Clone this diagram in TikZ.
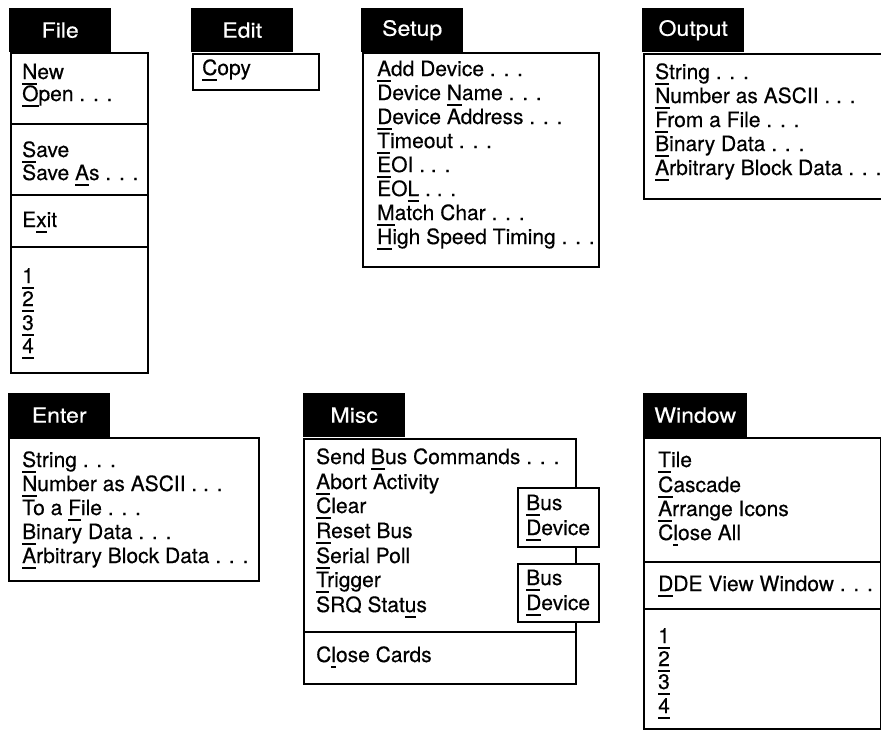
\documentclass[tikz,border=0pt]{standalone}
\usepackage{fontspec}
\setmainfont[FakeBold=0.4]{TeX Gyre Heros}
\newfontfamily\titlefont[FakeStretch=1.1,FakeBold=0.4]{TeX Gyre Heros}
\usetikzlibrary{positioning}
\newcommand{\mnem}[1]{\setbox0=\hbox{#1}\rlap{\rule[-6pt]{\wd0}{2.4pt}}#1}
\tikzset{
  menutitle/.style = {fill=black, text=white, anchor=north west, inner sep=0pt,
                      minimum width=102pt, minimum height=44pt,
                      font=\titlefont\fontsize{21}{21}\selectfont},
  menubox/.style   = {draw=black, line width=1.8pt, anchor=north west, inner sep=0pt},
  subbox/.style    = {menubox, fill=white},
  menuitem/.style  = {anchor=base west, inner sep=0pt,
                      font=\fontsize{21}{21}\selectfont},
  sepline/.style   = {line width=1.8pt},
}

\begin{document}
\begin{tikzpicture}[x=1pt, y=-1pt]
  \useasboundingbox (0,0) rectangle (881,729);
  \clip (0,0) rectangle (881,729);

  % File
  \node[menutitle] (filetitle) at (9,8) {File};
  \node[menubox, minimum width=137pt, minimum height=320pt] (filebox) at (10,52) {};
  \draw[sepline] (filebox.west |- 0,124) -- (filebox.east |- 0,124);
  \draw[sepline] (filebox.west |- 0,195) -- (filebox.east |- 0,195);
  \draw[sepline] (filebox.west |- 0,247) -- (filebox.east |- 0,247);
  \node[menuitem] (filenew)    at (22,79)  {\mnem{N}ew};
  \node[menuitem] (fileopen)   at (22,101) {\mnem{O}pen . . .};
  \node[menuitem] (filesave)   at (22,157) {\mnem{S}ave};
  \node[menuitem] (filesaveas) at (22,180) {Save \mnem{A}s . . .};
  \node[menuitem] (fileexit)   at (22,227) {E\mnem{x}it};
  \node[menuitem] (fileone)    at (22,283) {\mnem{1}};
  \node[menuitem] (filetwo)    at (22,306) {\mnem{2}};
  \node[menuitem] (filethree)  at (22,330) {\mnem{3}};
  \node[menuitem] (filefour)   at (22,353) {\mnem{4}};

  % Edit
  \node[menutitle] (edittitle) at (191,8) {Edit};
  \node[menubox, minimum width=126pt, minimum height=36pt] (editbox) at (192,53) {};
  \node[menuitem] (editcopy) at (202,75) {\mnem{C}opy};

  % Setup
  \node[menutitle] (setuptitle) at (361,8) {Setup};
  \node[menubox, minimum width=236pt, minimum height=214pt] (setupbox) at (362,52) {};
  \node[menuitem] (setupadd)     at (377,76)  {\mnem{A}dd Device . . .};
  \node[menuitem] (setupname)    at (377,100) {Device \mnem{N}ame . . .};
  \node[menuitem] (setupaddr)    at (377,124) {\mnem{D}evice Address . . .};
  \node[menuitem] (setuptimeout) at (377,148) {\mnem{T}imeout . . .};
  \node[menuitem] (setupeoi)     at (377,172) {\mnem{E}OI . . .};
  \node[menuitem] (setupeol)     at (377,196) {EO\mnem{L} . . .};
  \node[menuitem] (setupmatch)   at (377,220) {\mnem{M}atch Char . . .};
  \node[menuitem] (setuphigh)    at (377,244) {\mnem{H}igh Speed Timing . . .};

  % Output
  \node[menutitle] (outtitle) at (642,8) {Output};
  \node[menubox, minimum width=260pt, minimum height=145pt] (outbox) at (643,53) {};
  \node[menuitem] (outstring) at (655,79)  {\mnem{S}tring . . .};
  \node[menuitem] (outnumber) at (655,103) {\mnem{N}umber as ASCII . . .};
  \node[menuitem] (outfile)   at (655,127) {\mnem{F}rom a File . . .};
  \node[menuitem] (outbinary) at (655,151) {\mnem{B}inary Data . . .};
  \node[menuitem] (outblock)  at (655,175) {\mnem{A}rbitrary Block Data . . .};

  % Enter
  \node[menutitle] (entertitle) at (8,393) {Enter};
  \node[menubox, minimum width=250pt, minimum height=143pt] (enterbox) at (8,437) {};
  \node[menuitem] (enterstring) at (22,467) {\mnem{S}tring . . .};
  \node[menuitem] (enternumber) at (22,491) {\mnem{N}umber as ASCII . . .};
  \node[menuitem] (enterfile)   at (22,515) {To a \mnem{F}ile . . .};
  \node[menuitem] (enterbinary) at (22,539) {\mnem{B}inary Data . . .};
  \node[menuitem] (enterblock)  at (22,563) {\mnem{A}rbitrary Block Data . . .};

  % Misc
  \node[menutitle] (misctitle) at (303,393) {Misc};
  \node[menubox, minimum width=272pt, minimum height=245pt] (miscbox) at (303,438) {};
  \draw[sepline] (miscbox.west |- 0,632) -- (miscbox.east |- 0,632);
  \node[menuitem] (miscsend)    at (316,464) {Send \mnem{B}us Commands . . .};
  \node[menuitem] (miscabort)   at (316,489) {\mnem{A}bort Activity};
  \node[menuitem] (miscclear)   at (316,513) {\mnem{C}lear};
  \node[menuitem] (miscreset)   at (316,538) {\mnem{R}eset Bus};
  \node[menuitem] (miscpoll)    at (316,563) {\mnem{S}erial Poll};
  \node[menuitem] (misctrigger) at (316,587) {\mnem{T}rigger};
  \node[menuitem] (miscsrq)     at (316,612) {SRQ Stat\mnem{u}s};
  \node[menuitem] (miscclose)   at (316,662) {C\mnem{l}ose Cards};
  \node[subbox, minimum width=81pt, minimum height=59pt] (clearbox) at (517,487) {};
  \node[menuitem] (clearbus)    at (526,510) {\mnem{B}us};
  \node[menuitem] (cleardevice) at (526,535) {\mnem{D}evice};
  \node[subbox, minimum width=81pt, minimum height=58pt] (trigbox) at (517,563) {};
  \node[menuitem] (trigbus)     at (526,585) {\mnem{B}us};
  \node[menuitem] (trigdevice)  at (526,610) {\mnem{D}evice};

  % Window
  \node[menutitle, minimum width=104pt] (wintitle) at (643,393) {Window};
  \node[menubox, minimum width=237pt, minimum height=291pt] (winbox) at (643,437) {};
  \draw[sepline] (winbox.west |- 0,562) -- (winbox.east |- 0,562);
  \draw[sepline] (winbox.west |- 0,609) -- (winbox.east |- 0,609);
  \node[menuitem] (wintile)    at (658,467) {\mnem{T}ile};
  \node[menuitem] (wincascade) at (658,492) {\mnem{C}ascade};
  \node[menuitem] (winarrange) at (658,516) {\mnem{A}rrange Icons};
  \node[menuitem] (wincloseall) at (658,540) {C\mnem{l}ose All};
  \node[menuitem] (windde)     at (658,591) {\mnem{D}DE View Window . . .};
  \node[menuitem] (winone)     at (658,643) {\mnem{1}};
  \node[menuitem] (wintwo)     at (658,666) {\mnem{2}};
  \node[menuitem] (winthree)   at (658,689) {\mnem{3}};
  \node[menuitem] (winfour)    at (658,713) {\mnem{4}};
\end{tikzpicture}
\end{document}
